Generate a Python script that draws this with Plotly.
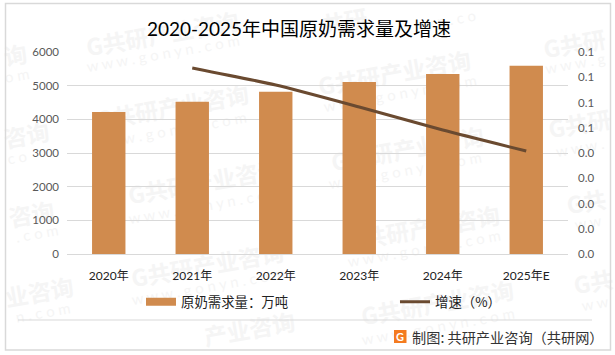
import plotly.graph_objects as go

categories = ["2020年", "2021年", "2022年", "2023年", "2024年", "2025年E"]
demand = [4220, 4520, 4820, 5110, 5350, 5590]
growth = [None, 0.0737, 0.0669, 0.0582, 0.0491, 0.0408]
demand_name = "原奶需求量：万吨"
growth_name = "增速（%）"
title_text = "2020-2025年中国原奶需求量及增速"
source_text = "制图: 共研产业咨询（共研网）"
logo_letter = "G"
watermark_main = [
    (163, 37, "G共研产业咨询"), (173, 110, "G共研产业咨询"), (395, 76, "G共研产业咨询"),
    (408, 152, "G共研产业咨询"), (205, 185, "G共研产业咨询"), (208, 268, "G共研产业咨询"),
    (424, 231, "G共研产业咨询"), (438, 306, "G共研产业咨询"),
    (16, 58, "询"), (27, 138, "咨询"), (32, 217, "咨询"), (40, 295, "业咨询"),
    (575, 47, "G共研"), (580, 127, "G共研"), (587, 205, "G共"), (594, 285, "G共"),
    (345, 24, "共研"), (250, 332, "产业咨询"),
]
watermark_sub = [
    (163, 53, "w w w . g o n y n . c o m"), (170, 130, "w w w . g o n y n . c o m"),
    (400, 93, "w w w . g o n y n . c o m"), (405, 170, "w w w . g o n y n . c o m"),
    (205, 205, "w w w . g o n y n . c o m"), (208, 286, "w w w . g o n y n . c o m"),
    (424, 248, "w w w . g o n y n . c o m"), (438, 326, "w w w . g o n y n . c o m"),
    (17, 75, "o m"), (17, 157, "c o"), (37, 233, ". c o m"), (43, 312, "n . c o m"),
    (575, 63, "w w w . g"), (580, 147, "w w w ."), (588, 222, "w w"), (595, 303, "w w"),
    (445, 20, "n y n . c o"),
]

W, H = 615, 355
FONT = "Lato, 'Noto Sans CJK SC', sans-serif"
CJK = "'Noto Sans CJK SC', sans-serif"
px = lambda v: v / W
py = lambda v: 1 - v / H

def wm(cx, cy, text, font):
    return dict(type="rect", xref="paper", yref="paper", layer="below",
                x0=px(cx - 85), x1=px(cx + 85), y0=py(cy + 6), y1=py(cy - 6),
                line=dict(width=0), fillcolor="rgba(0,0,0,0)",
                label=dict(text=text, textangle=-10, textposition="middle center", font=font))

main_font = dict(family=CJK, size=23, color="#f5f5f5")
sub_font = dict(family=FONT, size=15, color="#f5f5f5")
shapes = [wm(x, y, f"<b>{t}</b>", main_font) for x, y, t in watermark_main]
shapes += [wm(x, y, t, sub_font) for x, y, t in watermark_sub]
shapes.append(dict(type="rect", xref="paper", yref="paper", layer="below",
                   x0=px(5.5), x1=px(610.5), y0=py(350), y1=py(3.5),
                   line=dict(color="#d9d9d9", width=1.5), fillcolor="rgba(0,0,0,0)"))
shapes.append(dict(type="line", xref="paper", yref="paper",
                   x0=px(18), x1=px(592), y0=py(320), y1=py(320),
                   line=dict(color="#d9d9d9", width=1)))
shapes.append(dict(type="rect", xref="paper", yref="paper", layer="below",
                   x0=px(394), x1=px(406.5), y0=py(343), y1=py(330),
                   line=dict(width=0), fillcolor="#f47b20"))

fig = go.Figure()
fig.add_bar(x=categories, y=demand, name=demand_name, marker=dict(color="#d08b4e", line=dict(width=0)),
            width=0.4, showlegend=False)
fig.add_scatter(x=[categories[0]], y=[None], name=demand_name, mode="lines",
                line=dict(color="#d08b4e", width=8), legend="legend")
fig.add_scatter(x=categories, y=growth, name=growth_name, mode="lines", yaxis="y2", legend="legend2",
                line=dict(color="#6a4a30", width=3, shape="spline", smoothing=0.6))

legend_common = dict(orientation="h", xanchor="left", yanchor="middle", bgcolor="rgba(0,0,0,0)",
                     itemwidth=30, font=dict(family=CJK, size=13.4, color="#222222"))
fig.update_layout(
    width=W, height=H, margin=dict(l=0, r=0, t=0, b=0, autoexpand=False), autosize=False,
    paper_bgcolor="white", plot_bgcolor="rgba(0,0,0,0)", font=dict(family=FONT),
    bargap=0.6, shapes=shapes,
    title=dict(text=title_text, x=px(299), xanchor="center", y=py(29), yanchor="middle",
               font=dict(family=FONT, size=19, color="black")),
    xaxis=dict(domain=[px(67), px(568)], type="category", showline=False, ticks="", ticklabelstandoff=13,
               tickfont=dict(size=12, color="#222222", family=FONT)),
    yaxis=dict(domain=[py(254), py(52)], range=[0, 6000], dtick=1000, gridcolor="#d9d9d9", gridwidth=1,
               zeroline=True, zerolinecolor="#d9d9d9", zerolinewidth=1, showline=False,
               ticks="", ticklabelstandoff=7, tickfont=dict(size=11.5, color="#595959")),
    yaxis2=dict(domain=[py(254), py(52)], range=[0, 0.08], dtick=0.01, tickformat=".1f", overlaying="y", side="right",
                showgrid=False, zeroline=False, showline=False, ticks="", ticklabelstandoff=9,
                tickfont=dict(size=11.5, color="#595959")),
    legend=dict(x=px(141), y=py(302), **legend_common),
    legend2=dict(x=px(395), y=py(302), **legend_common),
    annotations=[
        dict(text=f"<b>{logo_letter}</b>", xref="paper", yref="paper", x=px(400.2), y=py(336.5), yanchor="middle",
             showarrow=False, font=dict(size=11, color="white", family=FONT)),
        dict(text=source_text, xref="paper", yref="paper", x=px(410), y=py(337), xanchor="left", yanchor="middle",
             showarrow=False, font=dict(size=14.2, color="#333333", family=CJK)),
    ],
)
fig.write_html("out.html", post_script="document.body.style.margin='0';", config=dict(displayModeBar=False))
